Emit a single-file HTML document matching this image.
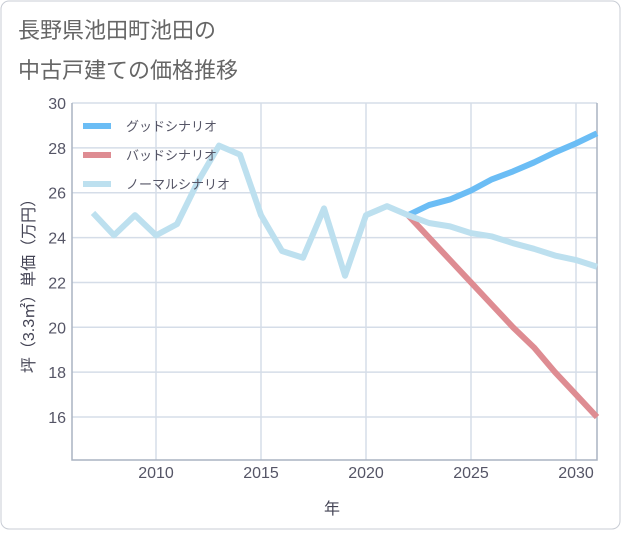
<!DOCTYPE html>
<html><head><meta charset="utf-8"><style>
body{margin:0;background:#fff;font-family:"Liberation Sans","Noto Sans CJK JP",sans-serif;}
#wrap{position:relative;width:621px;height:530px;}
</style></head><body>
<div id="wrap">
<svg id="chart" width="621" height="530" xmlns="http://www.w3.org/2000/svg">
<rect x="1" y="1" width="619" height="528" rx="8" fill="#fff" stroke="#c8ccd4"/>
<text x="18" y="38" font-size="22" fill="#666">長野県池田町池田の</text>
<text x="18" y="78" font-size="22" fill="#666">中古戸建ての価格推移</text>
<g id="grid"></g>
<g id="series"></g>
<g id="legend"></g>
<text x="332" y="514" font-size="16" fill="#445" text-anchor="middle">年</text>
<text transform="translate(34,282) rotate(-90)" font-size="16" fill="#445" text-anchor="middle">坪（3.3㎡）単価（万円）</text>
</svg>
</div>
<script>
const years=[2007,2008,2009,2010,2011,2012,2013,2014,2015,2016,2017,2018,2019,2020,2021,2022,2023,2024,2025,2026,2027,2028,2029,2030,2031];
const normalValues=[25.1,24.1,25.0,24.1,24.6,26.5,28.1,27.7,25.0,23.4,23.1,25.3,22.3,25.0,25.4,25.0,24.65,24.5,24.2,24.05,23.75,23.5,23.2,23.0,22.7];
const goodYears=[2022,2023,2024,2025,2026,2027,2028,2029,2030,2031];
const goodValues=[25.0,25.45,25.7,26.1,26.6,26.95,27.35,27.8,28.2,28.65];
const badValues=[25.0,24.0,23.0,22.0,21.0,20.0,19.1,18.0,17.0,16.0];
const xTicks=[2010,2015,2020,2025,2030];
const yTicks=[16,18,20,22,24,26,28,30];
const legendLabels=["グッドシナリオ","バッドシナリオ","ノーマルシナリオ"];
const legendColors=["#6bbdf5","#de8c92","#bde0ef"];

const L=72,R=597,T=103,B=460;
const X=y=>156+(y-2010)*21;
const Y=v=>103+(30-v)*22.43;
const NS="http://www.w3.org/2000/svg";
function mk(t,a,p){const e=document.createElementNS(NS,t);for(const k in a)e.setAttribute(k,a[k]);p.appendChild(e);return e;}
const grid=document.getElementById('grid'),ser=document.getElementById('series'),leg=document.getElementById('legend');
yTicks.forEach(v=>{
 const l=mk('line',{x1:L,x2:R,y1:Y(v),y2:Y(v),stroke:'#d5dde8','stroke-width':1.5},grid);
 
 
 const t=mk('text',{x:66,y:Y(v)+6,'font-size':16,fill:'#556','text-anchor':'end'},grid);t.textContent=v;
 
 
});
xTicks.forEach(y=>{
 const l=mk('line',{x1:X(y),x2:X(y),y1:T,y2:B,stroke:'#d5dde8','stroke-width':1.5},grid);
 
 
 const t=mk('text',{x:X(y),y:478,'font-size':16,fill:'#556','text-anchor':'middle'},grid);t.textContent=y;
 
 
});
const ax=mk('path',{d:`M${L} ${T}V${B}H${R}V${T}`,fill:'none',stroke:'#aab4c2','stroke-width':1.5},grid);


function line(xs,vs,c,name){
 const p=mk('polyline',{points:xs.map((y,i)=>X(y)+','+Y(vs[i])).join(' '),fill:'none',stroke:c,'stroke-width':6,'stroke-linejoin':'round'},ser);
 
 
}
line(goodYears,goodValues,legendColors[0],'good-scenario-line');
line(goodYears,badValues,legendColors[1],'bad-scenario-line');
line(years,normalValues,legendColors[2],'normal-scenario-line');
legendLabels.forEach((s,i)=>{
 const y=126+i*29;
 const g=mk('g',{},leg);
 
 
 mk('line',{x1:83,x2:111,y1:y,y2:y,stroke:legendColors[i],'stroke-width':6},g);
 const t=mk('text',{x:126,y:y+5,'font-size':13,fill:'#556'},g);t.textContent=s;
});
</script>
</body></html>
